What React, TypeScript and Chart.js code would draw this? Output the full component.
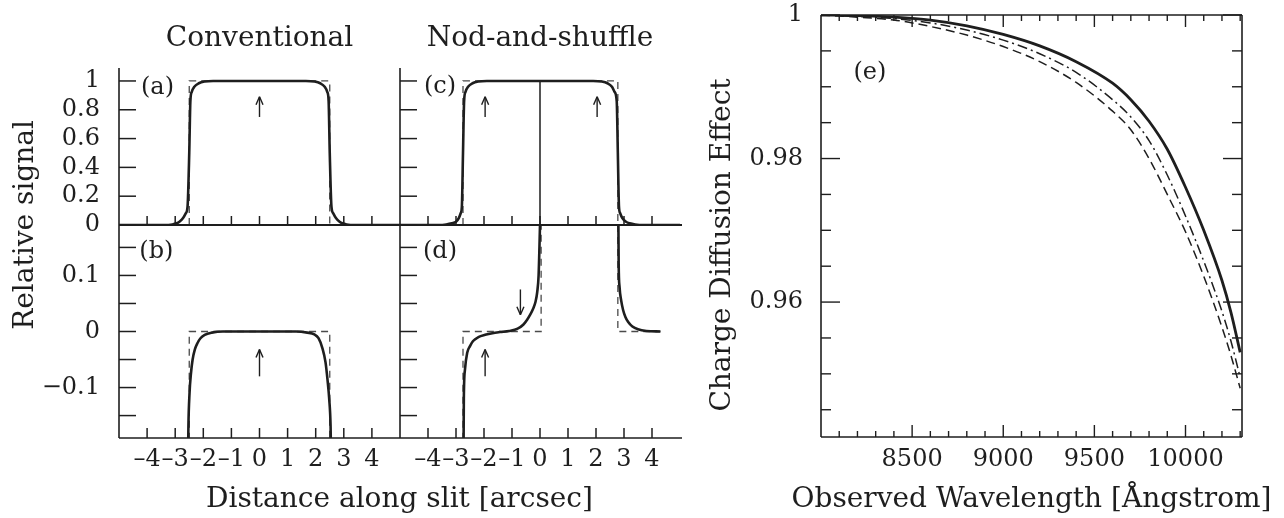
import React, { useEffect, useRef } from 'react';
import { Chart, registerables } from 'chart.js';

Chart.register(...registerables);

const FONT = 'DejaVu Serif';
const INK = '#1e1e1e';
const DASH_INK = '#4a4a4a';

// ---------------- Panels (a)-(d): distance along slit ----------------
const slitTicks = [-4, -3, -2, -1, 0, 1, 2, 3, 4];
const slitTickLabels = ['–4', '–3', '–2', '–1', '0', '1', '2', '3', '4'];
const signalTicks = [0, 0.2, 0.4, 0.6, 0.8, 1];
const signalTickLabels = ['0', '0.2', '0.4', '0.6', '0.8', '1'];
const residualTicks = [-0.15, -0.1, -0.05, 0, 0.05, 0.1, 0.15];
const residualLabelTicks = [-0.1, 0, 0.1];
const residualTickLabels = ['−0.1', '0', '0.1'];

// (a) conventional, relative signal
const aX = [-5, -3.4, -3.1, -2.95, -2.85, -2.72, -2.62, -2.56, -2.5, -2.46, -2.41, -2.32, -2.16, -1.95, -1.65,
  1.65, 1.95, 2.16, 2.32, 2.41, 2.46, 2.5, 2.56, 2.62, 2.72, 2.85, 2.95, 3.1, 3.4, 5];
const aY = [0, 0, 0.004, 0.012, 0.023, 0.048, 0.083, 0.13, 0.5, 0.86, 0.925, 0.96, 0.984, 0.996, 1,
  1, 0.996, 0.984, 0.96, 0.925, 0.86, 0.5, 0.13, 0.083, 0.048, 0.023, 0.012, 0.004, 0, 0];
const aBoxX = [-2.5, -2.5, 2.5, 2.5];
const aBoxY = [0, 1, 1, 0];

// (b) conventional, residual
const bX = [-2.56, -2.53, -2.49, -2.44, -2.38, -2.3, -2.2, -2.1, -1.95, -1.7, -1.3,
  1.3, 1.7, 1.95, 2.1, 2.24, 2.35, 2.42, 2.48, 2.53, 2.57];
const bY = [-0.3, -0.17, -0.11, -0.075, -0.05, -0.032, -0.02, -0.012, -0.006, -0.002, 0,
  0, -0.002, -0.005, -0.012, -0.03, -0.055, -0.086, -0.12, -0.17, -0.3];
const bBoxX = [-2.5, -2.5, 2.5, 2.5];
const bBoxY = [-0.3, 0, 0, -0.3];

// (c) nod-and-shuffle, relative signal
const cX = [-5, -3.6, -3.35, -3.15, -3.0, -2.9, -2.83, -2.79, -2.75, -2.71, -2.66, -2.57, -2.41, -2.2, -1.9,
  1.9, 2.2, 2.41, 2.57, 2.66, 2.74, 2.78, 2.82, 2.86, 2.94, 3.07, 3.2, 3.4, 3.7, 5];
const cY = [0, 0, 0.004, 0.012, 0.023, 0.048, 0.083, 0.13, 0.5, 0.86, 0.925, 0.96, 0.984, 0.996, 1,
  1, 0.996, 0.984, 0.96, 0.925, 0.86, 0.5, 0.13, 0.083, 0.048, 0.023, 0.012, 0.004, 0, 0];
const cMidX = [0, 0];
const cMidY = [0, 1];
const cBoxX = [-2.75, -2.75, 2.78, 2.78];
const cBoxY = [0, 1, 1, 0];

// (d) nod-and-shuffle, residual
const dLX = [-2.74, -2.72, -2.68, -2.6, -2.5, -2.39, -2.2, -1.96, -1.7, -1.43, -1.1, -0.8, -0.6, -0.46, -0.35,
  -0.25, -0.16, -0.1, -0.05, -0.02, 0];
const dLY = [-0.3, -0.12, -0.068, -0.038, -0.026, -0.017, -0.01, -0.006, -0.003, -0.001, 0.001, 0.005, 0.012, 0.021, 0.03,
  0.04, 0.053, 0.07, 0.1, 0.15, 0.19];
const dRX = [2.8, 2.81, 2.84, 2.9, 2.97, 3.05, 3.15, 3.3, 3.5, 3.8, 4.3];
const dRY = [0.19, 0.12, 0.08, 0.055, 0.038, 0.026, 0.017, 0.009, 0.004, 0.001, 0];
const dBoxLX = [-2.75, -2.75, 0.04, 0.04];
const dBoxLY = [-0.3, 0, 0, 0.19];
const dBoxRX = [2.78, 2.78, 4.3];
const dBoxRY = [0.19, 0, 0];

// arrows (data coordinates) and panel letters
const slitArrows = [
  { xs: 'xl', ys: 'ya', x: 0, from: 0.75, to: 0.89 },
  { xs: 'xl', ys: 'yb', x: 0, from: -0.08, to: -0.032 },
  { xs: 'xr', ys: 'ya', x: -1.96, from: 0.75, to: 0.89 },
  { xs: 'xr', ys: 'ya', x: 2.04, from: 0.75, to: 0.89 },
  { xs: 'xr', ys: 'yb', x: -0.7, from: 0.075, to: 0.03 },
  { xs: 'xr', ys: 'yb', x: -1.96, from: -0.08, to: -0.032 },
];
const slitPanelLabels = [
  { text: '(a)', xs: 'xl', ys: 'ya', x: -3.63, y: 0.95 },
  { text: '(b)', xs: 'xl', ys: 'yb', x: -3.67, y: 0.143 },
  { text: '(c)', xs: 'xr', ys: 'ya', x: -3.57, y: 0.958 },
  { text: '(d)', xs: 'xr', ys: 'yb', x: -3.57, y: 0.143 },
];

// ---------------- Panel (e): charge diffusion ----------------
const wave = [8000, 8200, 8400, 8600, 8800, 9000, 9200, 9400, 9600, 9700, 9800, 9900, 10000, 10100, 10200, 10250, 10300];
const cdeSolid = [1.0, 0.9999, 0.9997, 0.9993, 0.9985, 0.9973, 0.9957, 0.9935, 0.9905, 0.9882, 0.9852, 0.9813, 0.976, 0.97, 0.963, 0.9585, 0.953];
const cdeDashDot = [1.0, 0.9998, 0.9995, 0.9989, 0.9979, 0.9965, 0.9946, 0.992, 0.9882, 0.9858, 0.9825, 0.9777, 0.972, 0.9657, 0.9587, 0.9545, 0.9495];
const cdeDashed = [1.0, 0.9997, 0.9993, 0.9984, 0.9972, 0.9956, 0.9935, 0.9906, 0.9866, 0.984, 0.98, 0.975, 0.9698, 0.9636, 0.9565, 0.9525, 0.948];
const waveTicks = [8100, 8200, 8300, 8400, 8500, 8600, 8700, 8800, 8900, 9000, 9100, 9200, 9300, 9400, 9500,
  9600, 9700, 9800, 9900, 10000, 10100, 10200, 10300];
const waveMajor = [8500, 9000, 9500, 10000];
const waveLabels = ['8500', '9000', '9500', '10000'];
const cdeTicks = [0.945, 0.95, 0.955, 0.96, 0.965, 0.97, 0.975, 0.98, 0.985, 0.99, 0.995, 1];
const cdeMajor = [0.96, 0.98, 1];
const cdeLabels = ['0.96', '0.98', '1'];

// ---------------- helpers ----------------
const pts = (xs: number[], ys: number[]) => xs.map((x, i) => ({ x, y: ys[i] }));
const titleFont = { family: FONT, size: 28 };
const tickFont = { family: FONT, size: 24 };
const noGrid = { display: false, drawTicks: false };
const noBorder = { display: false };

function solid(xs: number[], ys: number[], xAxisID: string, yAxisID: string, extra: any = {}) {
  return {
    data: pts(xs, ys), xAxisID, yAxisID, borderColor: INK, borderWidth: 2.6, pointRadius: 0,
    fill: false, cubicInterpolationMode: 'monotone', ...extra,
  };
}
function dashed(xs: number[], ys: number[], xAxisID: string, yAxisID: string) {
  return {
    data: pts(xs, ys), xAxisID, yAxisID, borderColor: DASH_INK, borderWidth: 1.3, borderDash: [7, 5],
    pointRadius: 0, fill: false, tension: 0,
  };
}
function seg(ctx: CanvasRenderingContext2D, x1: number, y1: number, x2: number, y2: number) {
  ctx.beginPath();
  ctx.moveTo(x1, y1);
  ctx.lineTo(x2, y2);
  ctx.stroke();
}
const setTicks = (vals: number[]) => (s: any) => { s.ticks = vals.map((value) => ({ value })); };
function titleOnly(axis: string, position: string, extra: any) {
  return {
    type: 'linear', axis, position, min: 0, max: 1, weight: 5, grid: noGrid, border: noBorder,
    ticks: { display: false }, ...extra,
  };
}

const slitFrame = {
  id: 'slitFrame',
  afterDatasetsDraw(chart: any) {
    const { xl, xr, ya, yb } = chart.scales;
    const ctx: CanvasRenderingContext2D = chart.ctx;
    ctx.save();
    ctx.strokeStyle = INK;
    ctx.lineCap = 'butt';
    const y0 = ya.getPixelForValue(0);
    const yTop = ya.top;
    const yBot = yb.bottom;
    ctx.lineWidth = 1.6;
    seg(ctx, xl.left, yTop, xl.left, yBot);
    seg(ctx, xr.left, yTop, xr.left, yBot);
    seg(ctx, xl.left, yBot, xr.right + 2, yBot);
    ctx.lineWidth = 2.2;
    seg(ctx, xl.left, y0, xr.right + 2, y0);
    ctx.lineWidth = 1.5;
    for (const s of [xl, xr]) {
      for (const v of slitTicks) {
        const px = s.getPixelForValue(v);
        seg(ctx, px, y0, px, y0 - 9);
        seg(ctx, px, yBot, px, yBot - 10);
      }
      for (const v of signalTicks) {
        const py = ya.getPixelForValue(v);
        seg(ctx, s.left, py, s.left + 17, py);
      }
      for (const v of residualTicks) {
        const py = yb.getPixelForValue(v);
        seg(ctx, s.left, py, s.left + 17, py);
      }
    }
    ctx.lineWidth = 1.4;
    for (const a of slitArrows) {
      const px = chart.scales[a.xs].getPixelForValue(a.x);
      const p0 = chart.scales[a.ys].getPixelForValue(a.from);
      const p1 = chart.scales[a.ys].getPixelForValue(a.to);
      const d = p1 > p0 ? 1 : -1;
      seg(ctx, px, p0, px, p1);
      seg(ctx, px - 3.5, p1 - d * 8, px, p1);
      seg(ctx, px + 3.5, p1 - d * 8, px, p1);
    }
    ctx.fillStyle = INK;
    ctx.font = `24px "${FONT}"`;
    ctx.textAlign = 'center';
    ctx.textBaseline = 'middle';
    for (const l of slitPanelLabels) {
      ctx.fillText(l.text, chart.scales[l.xs].getPixelForValue(l.x), chart.scales[l.ys].getPixelForValue(l.y));
    }
    ctx.restore();
  },
};

const cdeFrame = {
  id: 'cdeFrame',
  afterLayout(chart: any) {
    // let the long axis title use the full width under the panel
    const s = chart.scales.xT;
    if (s) {
      s.left -= 45;
      s.right += 45;
      s.width = s.right - s.left;
    }
  },
  afterDatasetsDraw(chart: any) {
    const { xe, ye } = chart.scales;
    const ctx: CanvasRenderingContext2D = chart.ctx;
    ctx.save();
    ctx.strokeStyle = INK;
    ctx.lineWidth = 1.6;
    const L = xe.left, R = xe.right, T = ye.top, B = ye.bottom;
    seg(ctx, L, T, R, T);
    seg(ctx, R, T, R, B);
    seg(ctx, L, B, R, B);
    seg(ctx, L, T, L, B);
    ctx.lineWidth = 1.4;
    for (const v of waveTicks) {
      const px = xe.getPixelForValue(v);
      const len = waveMajor.includes(v) ? 12 : 6;
      seg(ctx, px, B, px, B - len);
      seg(ctx, px, T, px, T + len);
    }
    for (const v of cdeTicks) {
      const py = ye.getPixelForValue(v);
      const len = cdeMajor.some((m) => Math.abs(m - v) < 1e-9) ? 19 : 10;
      seg(ctx, L, py, L + len, py);
      seg(ctx, R, py, R - len, py);
    }
    ctx.fillStyle = INK;
    ctx.font = `24px "${FONT}"`;
    ctx.textAlign = 'center';
    ctx.textBaseline = 'middle';
    ctx.fillText('(e)', xe.getPixelForValue(8268), ye.getPixelForValue(0.992));
    ctx.restore();
  },
};

const commonOpts = {
  animation: false,
  responsive: false,
  maintainAspectRatio: false,
  events: [],
  plugins: { legend: { display: false }, title: { display: false }, tooltip: { enabled: false } },
};

function slitConfig(): any {
  const tickAxisY = (stackWeight: number, min: number, max: number, vals: number[], labels: string[]) => ({
    type: 'linear', axis: 'y', position: 'left', stack: 'yax', stackWeight, min, max,
    grid: noGrid, border: noBorder,
    ticks: { font: tickFont, color: INK, padding: 19, autoSkip: false, callback: (_v: any, i: number) => labels[i] },
    afterBuildTicks: setTicks(vals),
    afterFit: (s: any) => { s.width = 79; },
  });
  const tickAxisX = (stackWeight: number) => ({
    type: 'linear', axis: 'x', position: 'bottom', stack: 'xax', stackWeight, min: -5, max: 5,
    grid: noGrid, border: noBorder,
    ticks: {
      font: tickFont, color: INK, padding: 7, autoSkip: false, maxRotation: 0, minRotation: 0,
      callback: (_v: any, i: number) => slitTickLabels[i],
    },
    afterBuildTicks: setTicks(slitTicks),
    afterFit: (s: any) => { s.height = 40; },
  });
  return {
    type: 'line',
    data: {
      datasets: [
        solid(aX, aY, 'xl', 'ya'),
        dashed(aBoxX, aBoxY, 'xl', 'ya'),
        solid(bX, bY, 'xl', 'yb'),
        dashed(bBoxX, bBoxY, 'xl', 'yb'),
        solid(cX, cY, 'xr', 'ya'),
        solid(cMidX, cMidY, 'xr', 'ya', { cubicInterpolationMode: 'default', tension: 0, borderWidth: 2, borderColor: '#555' }),
        dashed(cBoxX, cBoxY, 'xr', 'ya'),
        solid(dLX, dLY, 'xr', 'yb'),
        solid(dRX, dRY, 'xr', 'yb'),
        dashed(dBoxLX, dBoxLY, 'xr', 'yb'),
        dashed(dBoxRX, dBoxRY, 'xr', 'yb'),
      ],
    },
    options: {
      ...commonOpts,
      layout: { padding: { left: 0, top: 0, right: 20, bottom: 0 } },
      scales: {
        yT2: titleOnly('y', 'left', { stack: 'ylab', stackWeight: 56, afterFit: (s: any) => { s.width = 40; } }),
        yT1: titleOnly('y', 'left', {
          stack: 'ylab', stackWeight: 314,
          title: { display: true, text: 'Relative signal', font: titleFont, color: INK, padding: { top: 9, bottom: 0 } },
          afterFit: (s: any) => { s.width = 40; },
        }),
        yb: tickAxisY(213, -0.19, 0.19, residualLabelTicks, residualTickLabels),
        ya: tickAxisY(157, 0, 1.09, signalTicks, signalTickLabels),
        xl: tickAxisX(281),
        xr: tickAxisX(280),
        xT: titleOnly('x', 'bottom', {
          title: { display: true, text: 'Distance along slit [arcsec]', font: titleFont, color: INK, padding: { top: 0, bottom: 1 } },
          afterFit: (s: any) => { s.height = 40; },
        }),
        xtr: titleOnly('x', 'top', {
          weight: 0, stack: 'xtop', stackWeight: 280,
          title: { display: true, text: 'Nod-and-shuffle', font: titleFont, color: INK, padding: { top: 22, bottom: 0 } },
          afterFit: (s: any) => { s.height = 68; },
        }),
        xtl: titleOnly('x', 'top', {
          weight: 0, stack: 'xtop', stackWeight: 281,
          title: { display: true, text: 'Conventional', font: titleFont, color: INK, padding: { top: 22, bottom: 0 } },
          afterFit: (s: any) => { s.height = 68; },
        }),
      },
    },
    plugins: [slitFrame],
  };
}

function cdeConfig(): any {
  return {
    type: 'line',
    data: {
      datasets: [
        { ...solid(wave, cdeSolid, 'xe', 'ye'), borderWidth: 2.8 },
        { ...solid(wave, cdeDashDot, 'xe', 'ye'), borderWidth: 1.5, borderDash: [10, 4, 2, 4] },
        { ...solid(wave, cdeDashed, 'xe', 'ye'), borderWidth: 1.5, borderDash: [9, 5] },
      ],
    },
    options: {
      ...commonOpts,
      layout: { padding: { left: 0, top: 15, right: 42, bottom: 0 } },
      scales: {
        yT1: titleOnly('y', 'left', {
          stack: 'ylab', stackWeight: 384,
          title: { display: true, text: 'Charge Diffusion Effect', font: titleFont, color: INK, padding: { top: 6, bottom: 0 } },
          afterFit: (s: any) => { s.width = 40; },
        }),
        yT0: titleOnly('y', 'left', { stack: 'ylab', stackWeight: 38, afterFit: (s: any) => { s.width = 40; } }),
        ye: {
          type: 'linear', axis: 'y', position: 'left', min: 0.9412, max: 1,
          grid: { display: false, drawTicks: true, tickLength: 18 }, border: noBorder,
          ticks: { font: tickFont, color: INK, padding: 0, autoSkip: false, callback: (_v: any, i: number) => cdeLabels[i] },
          afterBuildTicks: setTicks(cdeMajor),
          afterFit: (s: any) => { s.width = 81; },
        },
        xe: {
          type: 'linear', axis: 'x', position: 'bottom', min: 8000, max: 10310,
          grid: noGrid, border: noBorder,
          ticks: {
            font: tickFont, color: INK, padding: 8, autoSkip: false, maxRotation: 0, minRotation: 0,
            callback: (_v: any, i: number) => waveLabels[i],
          },
          afterBuildTicks: setTicks(waveMajor),
          afterFit: (s: any) => { s.height = 41; },
        },
        xT: titleOnly('x', 'bottom', {
          title: { display: true, text: 'Observed Wavelength [Ångstrom]', font: titleFont, color: INK, padding: { top: 0, bottom: 1 } },
          afterFit: (s: any) => { s.height = 40; },
        }),
      },
    },
    plugins: [cdeFrame],
  };
}

export default function App() {
  const slitRef = useRef<HTMLCanvasElement>(null);
  const cdeRef = useRef<HTMLCanvasElement>(null);

  useEffect(() => {
    Chart.defaults.font.family = FONT;
    Chart.defaults.color = INK;
    const c1 = new Chart(slitRef.current as HTMLCanvasElement, slitConfig());
    const c2 = new Chart(cdeRef.current as HTMLCanvasElement, cdeConfig());
    return () => {
      c1.destroy();
      c2.destroy();
    };
  }, []);

  return (
    <div style={{ position: 'fixed', left: 0, top: 0, width: 1284, height: 518, background: '#fff' }}>
      <canvas ref={slitRef} width={700} height={518}
        style={{ position: 'absolute', left: 0, top: 0, width: 700, height: 518 }} />
      <canvas ref={cdeRef} width={584} height={518}
        style={{ position: 'absolute', left: 700, top: 0, width: 584, height: 518 }} />
    </div>
  );
}
